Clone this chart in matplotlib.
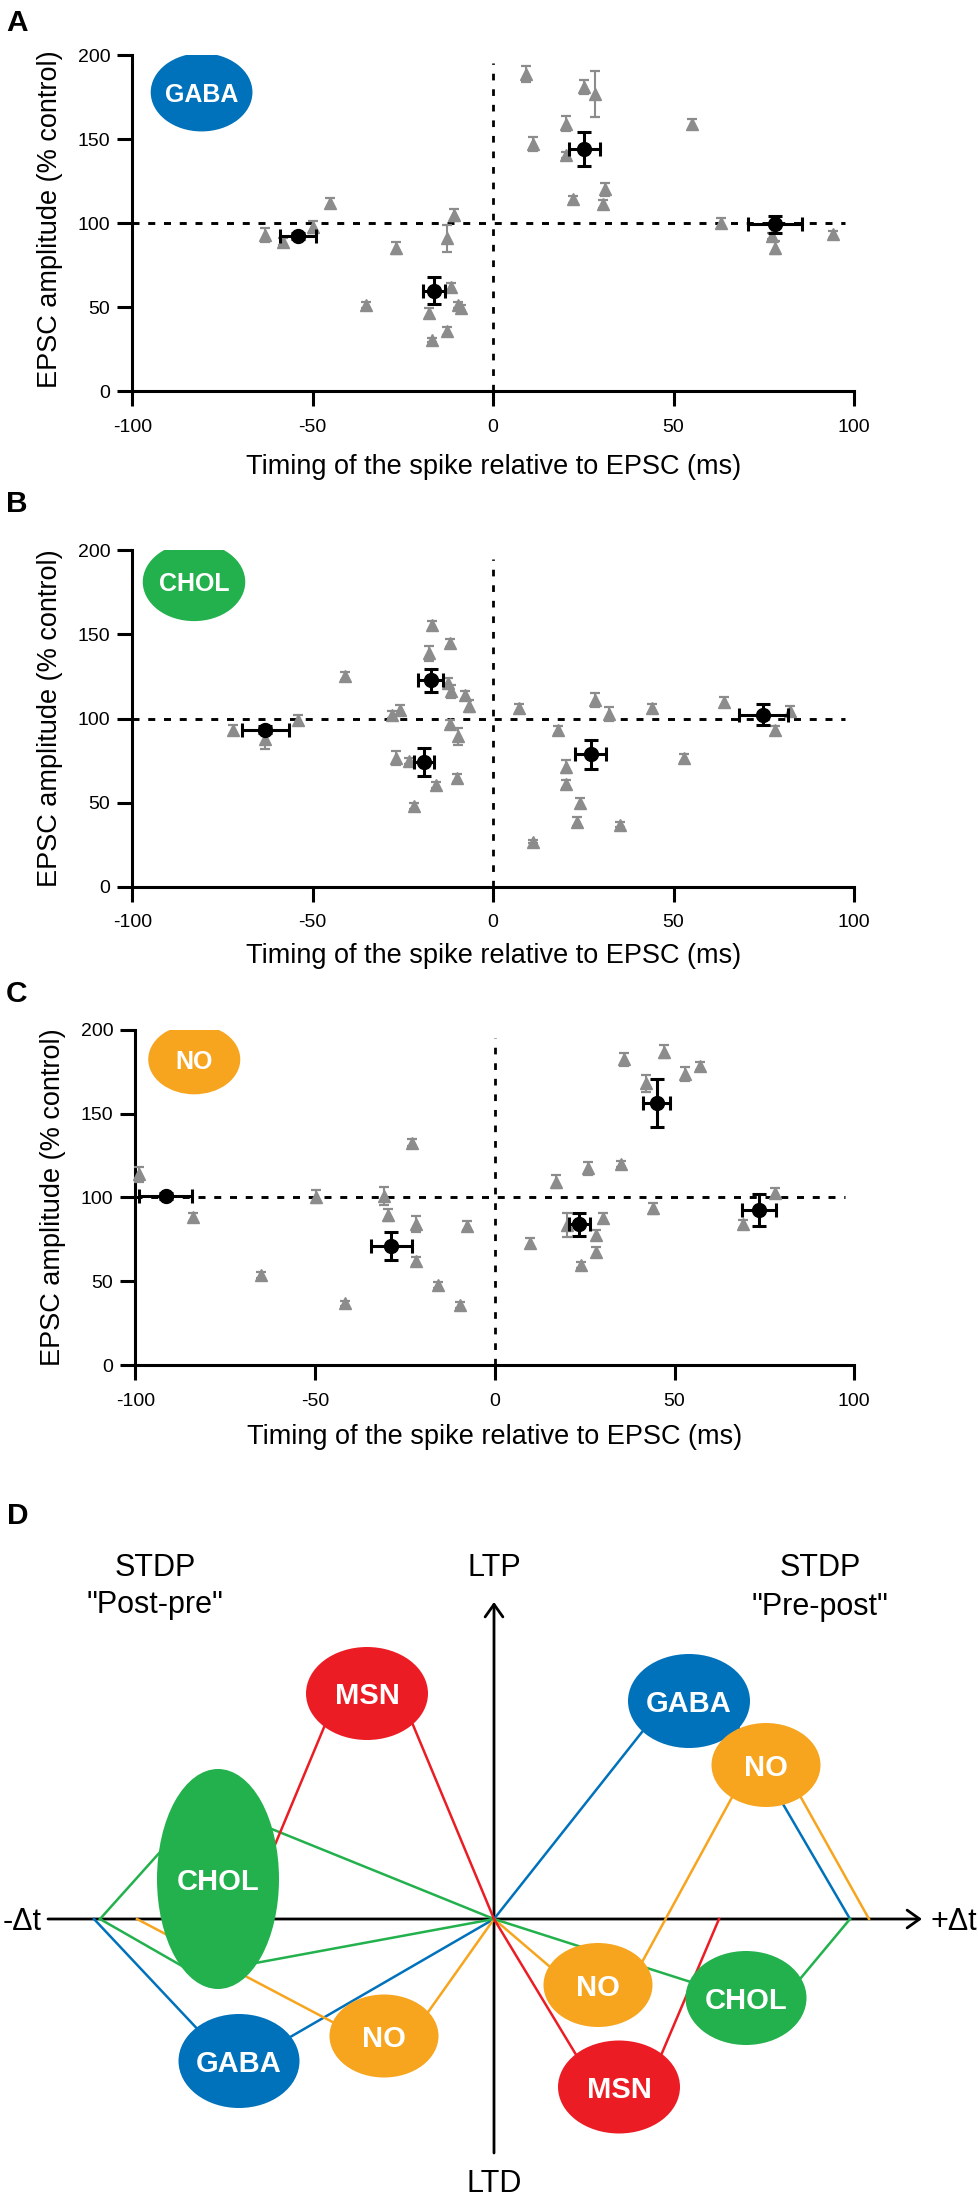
import matplotlib
matplotlib.use('Agg')
import matplotlib.pyplot as plt
from matplotlib.patches import Ellipse

plt.rcParams['font.family'] = ['Liberation Sans', 'DejaVu Sans']
plt.rcParams['axes.unicode_minus'] = False

# ---------------- data: panels A-C ----------------
xticks = [-100, -50, 0, 50, 100]
yticks = [0, 50, 100, 150, 200]
xlabel_text = 'Timing of the spike relative to EPSC (ms)'
ylabel_text = 'EPSC amplitude (% control)'

# Panel A (GABA)
a_cell_x = [-63.1, -58.1, -50.0, -45.1, -35.1, -26.9, -17.9, -16.9, -12.9, -12.9, -11.8, -10.8, -9.7, -8.8,
            9.2, 11.1, 20.2, 20.2, 25.1, 28.2, 22.2, 31.1, 30.4, 55.2, 63.1, 77.3, 78.2, 94.2]
a_cell_y = [92.9, 88.9, 97.8, 111.7, 51.2, 84.9, 46.2, 30.4, 35.7, 90.9, 62.1, 104.8, 51.2, 49.2,
            188.8, 147.0, 159.0, 140.4, 180.9, 176.9, 114.1, 120.1, 111.2, 159.0, 99.8, 92.2, 85.3, 93.2]
a_cell_err = [4.3, 2, 3.5, 3, 2, 3.5, 3, 1, 2.5, 8, 2, 3.5, 2, 2,
              4.8, 4, 4.5, 2, 4, 13.7, 2, 4, 2.5, 3, 3, 2, 4, 2]
a_mean_x = [-54.1, -16.4, 25.3, 78.1]
a_mean_y = [92.3, 59.7, 144.0, 99.2]
a_mean_xerr = [5.0, 3.0, 4.4, 7.6]
a_mean_yerr = [2.0, 8.2, 10.3, 5.0]

# Panel B (CHOL)
b_cell_x = [-72.1, -63.1, -54.0, -41.0, -27.9, -25.8, -27.0, -23.2, -21.9, -17.9, -16.9, -15.9, -11.9, -12.5,
            -11.8, -11.9, -9.7, -9.9, -7.9, -6.7, 7.2, 11.1, 18.1, 20.2, 20.2, 23.1, 24.2, 28.2, 32.1, 35.1,
            44.1, 53.0, 64.0, 78.1, 82.2]
b_cell_y = [92.9, 88.0, 99.2, 125.4, 102.2, 105.2, 76.4, 74.8, 48.0, 138.9, 155.4, 60.5, 144.8, 121.0,
            116.1, 96.8, 89.3, 64.5, 114.1, 107.5, 106.0, 26.8, 93.3, 71.4, 61.1, 38.7, 49.6, 110.9, 102.8, 36.7,
            106.0, 76.4, 110.0, 92.9, 104.2]
b_cell_err = [3, 6, 3, 2.5, 2, 3, 4, 2, 2, 4.5, 2.5, 2, 2.5, 3,
              4, 2.5, 5, 2.5, 2.5, 3.5, 2.5, 1, 2.5, 4, 2.5, 2.5, 3, 4, 4, 1.5,
              2.5, 2.5, 3, 2.5, 3]
b_mean_x = [-63.1, -17.3, -19.2, 27.0, 74.9]
b_mean_y = [93.3, 122.6, 74.0, 78.8, 102.2]
b_mean_xerr = [6.6, 3.4, 2.8, 4.4, 6.7]
b_mean_yerr = [2.0, 6.6, 8.3, 8.6, 6.2]

# Panel C (NO)
c_cell_x = [-99.0, -84.0, -65.0, -49.8, -41.8, -30.9, -29.8, -22.9, -21.8, -21.8, -15.9, -7.8, -9.8,
            9.8, 17.1, 20.0, 24.0, 25.9, 28.1, 28.1, 30.0, 35.0, 36.0, 42.0, 43.9, 47.0, 53.0, 57.0, 69.1, 78.0]
c_cell_y = [113.9, 88.1, 53.7, 100.4, 36.8, 100.8, 89.5, 132.6, 84.1, 62.2, 47.7, 83.1, 35.8,
            72.6, 109.3, 83.5, 59.6, 117.3, 67.2, 77.5, 87.5, 119.9, 182.3, 168.0, 93.4, 186.9, 173.6, 178.3,
            84.1, 102.4]
c_cell_err = [4.5, 2.5, 2, 4, 1.5, 5.5, 3.5, 2, 5, 2.5, 2, 2.5, 2,
              3, 4, 7, 2, 4, 3, 3, 3, 2, 4, 5, 3.5, 4, 4, 2.5, 2.5, 3]
c_mean_x = [-91.5, -28.8, 23.5, 45.0, 73.6]
c_mean_y = [100.8, 71.0, 83.9, 156.1, 92.4]
c_mean_xerr = [7.4, 5.7, 2.9, 3.8, 4.7]
c_mean_yerr = [1.5, 8.4, 6.8, 14.4, 9.4]

# ---------------- data: panel D schematic ----------------
node_names = ['MSN', 'CHOL', 'GABA', 'NO', 'GABA', 'NO', 'NO', 'CHOL', 'MSN']
node_x = [-127, -276, -255, -110, 195, 272, 104, 252, 125]
node_y = [225.5, 40, -142, -117, 218, 154, -66, -79, -168]
node_w = [122, 122, 121, 109, 122, 109, 109, 121, 122]
node_h = [93, 220, 94, 83, 94, 84, 84, 94, 93]

gaba_curve_x = [-400, -259, 0, 205, 356]
gaba_curve_y = [0, -150, 0, 259, 0]
no_curve_x = [-357, -97, 0, 117, 272, 375]
no_curve_y = [0, -137, 0, -100, 184, 0]
chol_up_x = [-394, -289, 0]
chol_up_y = [0, 117, 0]
chol_low_x = [-394, -298, 0]
chol_low_y = [0, -55, 0]
chol_right_x = [0, 281, 356]
chol_right_y = [0, -90, 0]
msn_left_x = [-250, -144, -106, 0]
msn_left_y = [0, 254, 254, 0]
msn_right_x = [0, 121.5, 139.5, 225]
msn_right_y = [0, -201, -201, 0]

COL = {'GABA': '#0071BB', 'CHOL': '#22B14C', 'NO': '#F7A51E', 'MSN': '#EC1C24'}
GRAY = '#8c8c8c'

W, H = 979, 2196
fig = plt.figure(figsize=(W / 100, H / 100), dpi=100)


def add_px_axes(left, top, right, bottom):
    return fig.add_axes([left / W, 1 - bottom / H, (right - left) / W, (bottom - top) / H])


def noclip(container):
    dl, caps, bars = container.lines
    for a in [dl, *caps, *bars]:
        if a is not None:
            a.set_clip_on(False)


def scatter_panel(ax, gx, gy, gerr, mx, my, mxerr, myerr, badge, bxy, bwh, xlab_y, ylab_y):
    ax.set_xlim(-100, 100)
    ax.set_ylim(0, 200)
    for s in ['top', 'right']:
        ax.spines[s].set_visible(False)
    for s in ['left', 'bottom']:
        ax.spines[s].set_linewidth(2.2)
    ax.set_xticks(xticks)
    ax.set_yticks(yticks)
    ax.tick_params(direction='out', length=10.8, width=2.2, labelsize=14)
    ax.tick_params(axis='x', pad=9.0)
    ax.tick_params(axis='y', pad=5.0)
    ax.axhline(100, xmin=0, xmax=0.9875, color='black', lw=2.1, ls=(0, (2.4, 3.0)), zorder=1)
    ax.axvline(0, ymin=0, ymax=0.975, color='black', lw=2.0, ls=(0, (2.4, 3.2)), zorder=1)
    c1 = ax.errorbar(gx, gy, yerr=gerr, fmt='^', color=GRAY, mec=GRAY, ms=8.2,
                     capsize=3.6, elinewidth=1.5, capthick=1.6, zorder=3)
    noclip(c1)
    c2 = ax.errorbar(mx, my, xerr=mxerr, yerr=myerr, fmt='o', color='black', ms=10,
                     capsize=4.7, elinewidth=2.2, capthick=2.2, zorder=4)
    noclip(c2)
    ax.add_patch(Ellipse(bxy, bwh[0], bwh[1], facecolor=COL[badge], edgecolor='none', zorder=5))
    ax.text(bxy[0], bxy[1], badge, color='white', fontsize=18, fontweight='bold',
            ha='center', va='center_baseline', zorder=6)
    ax.set_xlabel(xlabel_text, fontsize=19.5)
    ax.xaxis.set_label_coords(0.5, xlab_y)
    ax.set_ylabel(ylabel_text, fontsize=19.5)
    ax.yaxis.set_label_coords(-0.0967, ylab_y)


axA = add_px_axes(132.3, 55, 854, 391)
scatter_panel(axA, a_cell_x, a_cell_y, a_cell_err, a_mean_x, a_mean_y, a_mean_xerr, a_mean_yerr,
              'GABA', (-80.8, 177.8), (28.2, 46.6), -0.1875, 0.51)
axB = add_px_axes(132.3, 550.3, 854, 886.7)
scatter_panel(axB, b_cell_x, b_cell_y, b_cell_err, b_mean_x, b_mean_y, b_mean_xerr, b_mean_yerr,
              'CHOL', (-82.9, 181.2), (28.4, 46.6), -0.1676, 0.5)
axC = add_px_axes(135.3, 1029.7, 854.3, 1365)
scatter_panel(axC, c_cell_x, c_cell_y, c_cell_err, c_mean_x, c_mean_y, c_mean_xerr, c_mean_yerr,
              'NO', (-83.6, 182.3), (25.6, 41.7), -0.1748, 0.5)

# panel letters
for lab, (lx, ly) in zip(['A', 'B', 'C', 'D'], [(17, 20), (17, 501), (17, 991), (18, 1513)]):
    fig.text(lx / W, 1 - ly / H, lab, fontsize=21.5, fontweight='bold',
             ha='center', va='center_baseline')

# ---------------- panel D ----------------
axD = add_px_axes(0, 1480, 979, 2196)
axD.set_xlim(-494, 485)
axD.set_ylim(-277, 439)
axD.axis('off')

arrow_style = '->,head_length=0.45,head_width=0.32'
axD.annotate('', xy=(0, 317), xytext=(0, -234),
             arrowprops=dict(arrowstyle=arrow_style, lw=2.0, color='black',
                             mutation_scale=20, shrinkA=0, shrinkB=0), zorder=1)
axD.annotate('', xy=(428, 0), xytext=(-446, 0),
             arrowprops=dict(arrowstyle=arrow_style, lw=2.0, color='black',
                             mutation_scale=20, shrinkA=0, shrinkB=0), zorder=1)

curves = [
    (gaba_curve_x, gaba_curve_y, 'GABA'),
    (no_curve_x, no_curve_y, 'NO'),
    (chol_up_x, chol_up_y, 'CHOL'),
    (chol_low_x, chol_low_y, 'CHOL'),
    (chol_right_x, chol_right_y, 'CHOL'),
    (msn_left_x, msn_left_y, 'MSN'),
    (msn_right_x, msn_right_y, 'MSN'),
]
for cx, cy, key in curves:
    axD.plot(cx, cy, color=COL[key], lw=1.8, solid_joinstyle='miter', zorder=2)

for name, x, y, w, h in zip(node_names, node_x, node_y, node_w, node_h):
    axD.add_patch(Ellipse((x, y), w, h, facecolor=COL[name], edgecolor='none', zorder=3))
    axD.text(x, y, name, color='white', fontsize=21, fontweight='bold',
             ha='center', va='center_baseline', zorder=4)

d_texts = ['STDP', '"Post-pre"', 'STDP', '"Pre-post"', 'LTP', 'LTD']
d_text_x = [-339, -339, 326, 326, 0, 0]
d_text_y = [355, 317, 355, 316, 355, -262]
for t, x, y in zip(d_texts, d_text_x, d_text_y):
    axD.text(x, y, t, fontsize=22, ha='center', va='center_baseline')
axD.text(-452, 1, '-\u0394t', fontsize=22, ha='right', va='center_baseline')
axD.text(437, 1, '+\u0394t', fontsize=22, ha='left', va='center_baseline')

fig.savefig('out.png', dpi=100)
